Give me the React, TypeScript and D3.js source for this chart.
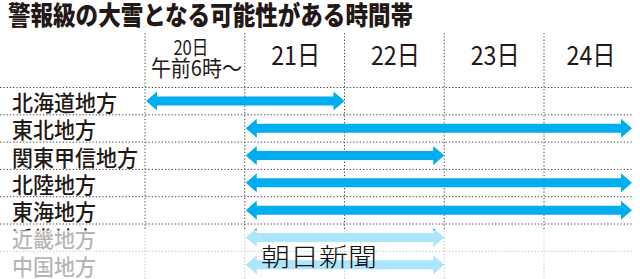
import React from "react";
import * as d3 from "d3";

const title = "警報級の大雪となる可能性がある時間帯";
const regions = ["北海道地方", "東北地方", "関東甲信地方", "北陸地方", "東海地方", "近畿地方", "中国地方"];
const startDay = [20, 21, 21, 21, 21, 21, 21];
const endDay = [22, 25, 23, 25, 25, 23, 23];
const dayTicks = [20, 21, 22, 23, 24];
const dayLabels = ["20日", "21日", "22日", "23日", "24日"];
const firstDaySub = "午前6時〜";
const credit = "朝日新聞";

const W = 640;
const H = 279;
const FONT = "'Noto Sans CJK JP', 'Noto Sans', sans-serif";
const INK = "#231815";
const BLUE = "#00aeef";

export default function App() {
  const x = d3.scaleLinear().domain([20, 24]).range([145, 544]);
  const rightEdge = 632;
  const y = d3.scaleBand<string>().domain(regions).range([87, 87 + 27.3 * 7]).padding(0);
  const step = y.step();

  const arrow = (x0: number, x1: number, cy: number) => {
    const h = 4.5, Hh = 9.5, L = 11;
    const pts: [number, number][] = [
      [x0, cy], [x0 + L, cy - Hh], [x0 + L, cy - h], [x1 - L, cy - h], [x1 - L, cy - Hh],
      [x1, cy], [x1 - L, cy + Hh], [x1 - L, cy + h], [x0 + L, cy + h], [x0 + L, cy + Hh],
    ];
    return (d3.line() as any)(pts) + "Z";
  };

  const hLines = regions.map((r) => y(r) as number);

  return (
    <svg width={W} height={H} style={{ position: "absolute", left: 0, top: 0, background: "#fff" }}>
      <rect x={0} y={0} width={W} height={H} fill="#fff" />
      <text x={8} y={25} fontFamily={FONT} fontWeight={900} fontSize={26} fill={INK}
        textLength={405} lengthAdjust="spacingAndGlyphs">{title}</text>

      {/* vertical grid */}
      {dayTicks.map((d) => (
        <line key={"v" + d} x1={x(d)} x2={x(d)} y1={33} y2={H} stroke="#444" strokeWidth={1} strokeDasharray="1.3,2" />
      ))}
      {/* horizontal grid */}
      {hLines.map((yy, i) => (
        <line key={"h" + i} x1={0} x2={rightEdge} y1={yy + 0.5} y2={yy + 0.5} stroke="#444" strokeWidth={1} strokeDasharray="1.3,2" />
      ))}

      {/* header */}
      {dayTicks.map((d, i) => {
        const x0 = x(d);
        const x1 = Math.min(i < dayTicks.length - 1 ? x(dayTicks[i + 1]) : x(d + 1), 636);
        const cx = (x0 + x1) / 2;
        if (i === 0) {
          return (
            <g key={"hd" + d}>
              <text x={cx - 4} y={54.5} textAnchor="middle" fontFamily={FONT} fontSize={20} fill={INK}
                textLength={35} lengthAdjust="spacingAndGlyphs">{dayLabels[i]}</text>
              <text x={cx + 1.5} y={75.7} textAnchor="middle" fontFamily={FONT} fontSize={22} fill={INK}
                textLength={91} lengthAdjust="spacingAndGlyphs">{firstDaySub}</text>
            </g>
          );
        }
        return (
          <text key={"hd" + d} x={cx + 1} y={65.3} textAnchor="middle" fontFamily={FONT} fontSize={26} fill={INK}
            textLength={49} lengthAdjust="spacingAndGlyphs">{dayLabels[i]}</text>
        );
      })}

      {/* rows */}
      {regions.map((r, i) => {
        const cy = (y(r) as number) + step / 2 + 0.3;
        const x0 = x(startDay[i]) + 1;
        const x1 = Math.min(x(endDay[i]), rightEdge);
        return (
          <g key={r}>
            <text x={12} y={cy + 10} fontFamily={FONT} fontWeight={500} fontSize={21.5} fill={INK}
              textLength={r.length * 21} lengthAdjust="spacingAndGlyphs">{r}</text>
            <path d={arrow(x0, x1, cy)} fill={BLUE} />
          </g>
        );
      })}

      {/* bottom fade */}
      <rect x={0} y={230.5} width={W} height={1.2} fill="#fff" />
      <rect x={0} y={231.5} width={W} height={H - 231.5} fill="#fff" opacity={0.68} />

      <text x={261} y={266} fontFamily={FONT} fontWeight={300} fontSize={25} fill="#111"
        textLength={116} lengthAdjust="spacingAndGlyphs">{credit}</text>
    </svg>
  );
}
